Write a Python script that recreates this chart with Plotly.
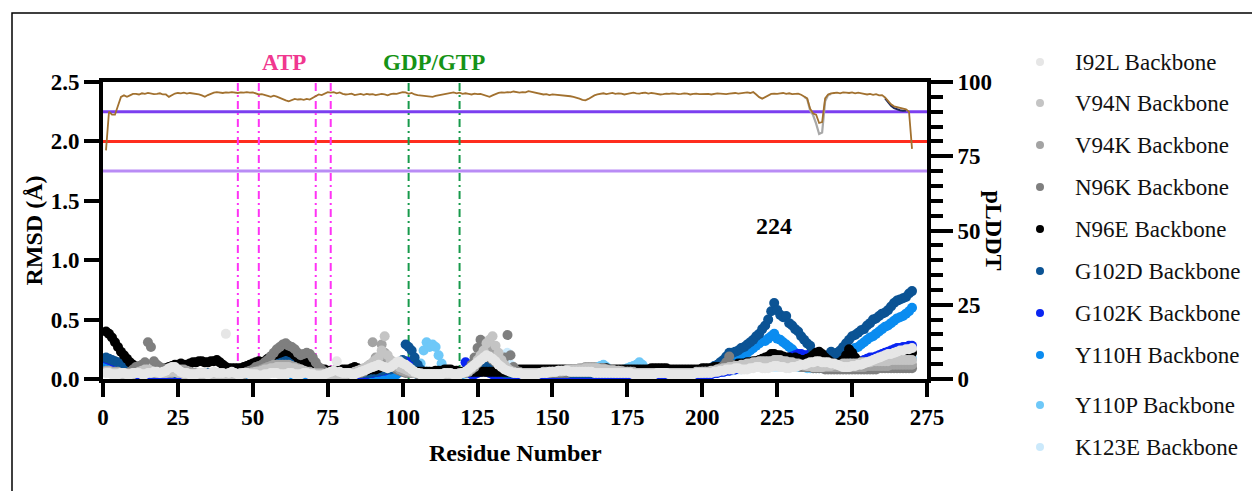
import plotly.graph_objects as go

# ---------------- data ----------------
residues = list(range(1, 271))

rmsd_I92L = [
.05,.05,.04,.04,.04,.05,.05,.04,.04,.05,
.05,.05,.04,.04,.05,.05,.06,.06,.05,.06,
.07,.09,.10,.10,.08,.06,.05,.05,.04,.04,
.04,.05,.05,.05,.04,.05,.06,.05,.05,.05,
.38,.05,.06,.05,.04,.04,.05,.05,.04,.04,
.04,.03,.03,.04,.04,.05,.05,.05,.04,.04,
.04,.05,.05,.04,.04,.04,.05,.05,.04,.04,
.03,.03,.03,.04,.05,.06,.07,.15,.06,.05,
.05,.05,.04,.04,.05,.06,.07,.08,.09,.10,
.11,.12,.11,.10,.09,.10,.12,.14,.15,.13,
.12,.10,.08,.06,.05,.04,.04,.04,.04,.04,
.04,.04,.04,.05,.05,.05,.04,.04,.04,.05,
.06,.08,.10,.12,.14,.16,.18,.20,.19,.17,
.15,.12,.10,.08,.07,.06,.05,.05,.05,.04,
.04,.04,.04,.04,.04,.05,.05,.05,.06,.06,
.06,.07,.07,.07,.07,.06,.06,.06,.06,.06,
.06,.06,.06,.05,.05,.05,.05,.05,.05,.05,
.05,.05,.05,.05,.05,.05,.04,.04,.04,.04,
.04,.04,.04,.04,.05,.05,.05,.05,.04,.04,
.04,.04,.04,.04,.04,.04,.04,.05,.05,.05,
.05,.05,.05,.06,.06,.07,.07,.08,.08,.08,
.09,.09,.08,.08,.08,.09,.09,.10,.10,.09,
.09,.09,.10,.11,.11,.10,.10,.09,.09,.10,
.10,.11,.12,.12,.13,.14,.14,.15,.15,.14,
.14,.14,.13,.13,.12,.11,.10,.10,.10,.11,
.11,.12,.12,.13,.14,.15,.16,.17,.18,.19,
.20,.21,.21,.22,.23,.24,.24,.25,.25,.26]

rmsd_V94N = [
.06,.06,.05,.05,.05,.04,.04,.04,.04,.04,
.05,.06,.07,.08,.08,.07,.06,.05,.05,.05,
.05,.06,.06,.06,.05,.05,.04,.04,.04,.04,
.04,.04,.04,.04,.04,.04,.04,.04,.04,.04,
.04,.04,.04,.04,.04,.05,.05,.05,.05,.05,
.06,.06,.07,.08,.08,.09,.09,.10,.10,.10,
.10,.10,.09,.09,.08,.08,.07,.06,.05,.05,
.04,.04,.04,.04,.04,.04,.04,.04,.04,.04,
.04,.05,.05,.06,.07,.08,.09,.10,.12,.14,
.16,.18,.24,.36,.20,.16,.14,.12,.10,.09,
.08,.07,.06,.05,.05,.04,.04,.04,.04,.04,
.04,.04,.04,.04,.04,.04,.04,.04,.05,.05,
.06,.07,.09,.12,.16,.20,.24,.30,.33,.36,
.28,.22,.16,.12,.09,.07,.06,.05,.05,.05,
.05,.05,.05,.05,.05,.05,.06,.06,.06,.06,
.06,.07,.07,.07,.08,.08,.08,.08,.08,.08,
.09,.09,.09,.09,.09,.08,.08,.08,.07,.07,
.07,.07,.06,.06,.06,.06,.05,.05,.05,.05,
.05,.05,.05,.05,.05,.05,.05,.05,.05,.05,
.05,.05,.05,.05,.05,.05,.05,.06,.06,.06,
.06,.06,.07,.07,.08,.08,.09,.09,.10,.10,
.11,.11,.12,.12,.13,.13,.14,.14,.15,.15,
.15,.15,.15,.16,.16,.16,.15,.15,.14,.14,
.13,.13,.12,.12,.11,.11,.10,.10,.10,.10,
.11,.11,.11,.12,.12,.12,.13,.13,.13,.13,
.13,.13,.14,.14,.14,.14,.15,.15,.15,.15,
.15,.15,.16,.16,.16,.16,.16,.16,.16,.16]

rmsd_V94K = [
.07,.07,.06,.06,.06,.05,.05,.05,.05,.05,
.05,.05,.05,.06,.06,.06,.05,.05,.05,.05,
.05,.05,.05,.06,.07,.08,.08,.07,.06,.05,
.05,.05,.04,.04,.04,.04,.04,.04,.04,.04,
.04,.04,.04,.04,.04,.04,.04,.05,.05,.06,
.06,.07,.08,.09,.10,.11,.12,.12,.12,.12,
.12,.12,.11,.10,.09,.08,.07,.06,.06,.05,
.05,.05,.05,.04,.04,.04,.04,.04,.04,.04,
.04,.04,.05,.05,.06,.07,.08,.10,.12,.31,
.18,.16,.29,.22,.18,.14,.12,.10,.08,.07,
.06,.06,.05,.05,.05,.05,.04,.04,.04,.04,
.04,.04,.04,.04,.04,.04,.04,.04,.04,.05,
.05,.06,.08,.10,.13,.16,.20,.24,.28,.22,
.18,.14,.12,.10,.08,.07,.06,.05,.05,.05,
.05,.05,.05,.05,.05,.05,.05,.05,.05,.06,
.06,.06,.06,.07,.07,.07,.08,.08,.09,.09,
.10,.10,.10,.10,.09,.09,.09,.08,.08,.08,
.07,.07,.07,.06,.06,.06,.06,.05,.05,.05,
.05,.05,.05,.05,.05,.05,.05,.05,.05,.05,
.05,.05,.05,.05,.05,.05,.05,.05,.05,.06,
.06,.06,.06,.07,.07,.08,.08,.09,.09,.10,
.10,.11,.11,.12,.12,.12,.13,.13,.13,.13,
.14,.14,.14,.14,.14,.14,.14,.13,.13,.13,
.12,.12,.12,.11,.11,.11,.10,.10,.10,.10,
.10,.10,.10,.10,.10,.10,.10,.10,.10,.10,
.10,.10,.10,.10,.11,.11,.11,.11,.11,.11,
.11,.11,.12,.12,.12,.12,.12,.12,.12,.12]

rmsd_N96K = [
.06,.06,.06,.05,.05,.05,.05,.05,.06,.08,
.10,.11,.12,.14,.31,.27,.15,.12,.10,.09,
.08,.07,.06,.06,.05,.05,.05,.05,.05,.05,
.04,.04,.04,.04,.04,.04,.04,.04,.04,.04,
.04,.04,.04,.04,.04,.05,.05,.06,.07,.08,
.10,.11,.12,.14,.16,.19,.22,.25,.27,.29,
.30,.28,.27,.25,.22,.20,.21,.22,.21,.18,
.14,.10,.08,.06,.05,.05,.04,.04,.04,.04,
.04,.04,.04,.04,.05,.05,.06,.08,.10,.12,
.14,.16,.18,.16,.14,.12,.10,.08,.07,.06,
.05,.05,.05,.05,.04,.04,.04,.04,.04,.04,
.04,.04,.04,.04,.04,.04,.04,.04,.04,.05,
.06,.08,.12,.18,.26,.33,.28,.22,.18,.16,
.14,.12,.14,.18,.37,.20,.10,.07,.06,.05,
.05,.05,.05,.05,.05,.05,.05,.05,.05,.05,
.05,.05,.05,.05,.05,.06,.06,.06,.06,.06,
.06,.06,.06,.06,.06,.06,.06,.06,.06,.06,
.05,.05,.05,.05,.05,.05,.05,.05,.05,.05,
.05,.05,.05,.05,.05,.05,.05,.05,.05,.05,
.05,.05,.05,.05,.05,.05,.05,.05,.05,.05,
.06,.06,.06,.07,.08,.09,.11,.14,.19,.12,
.10,.10,.10,.10,.10,.11,.11,.11,.12,.12,
.12,.12,.12,.12,.12,.12,.12,.12,.12,.11,
.11,.11,.10,.10,.10,.10,.09,.09,.09,.09,
.08,.08,.08,.08,.08,.08,.08,.08,.08,.08,
.08,.08,.08,.08,.08,.08,.08,.08,.09,.09,
.09,.09,.09,.09,.09,.09,.09,.09,.09,.09]

rmsd_N96E = [
.40,.38,.35,.31,.27,.23,.20,.17,.14,.12,
.10,.09,.08,.08,.07,.07,.07,.07,.08,.08,
.09,.10,.11,.12,.12,.13,.12,.12,.13,.14,
.14,.15,.15,.14,.14,.15,.15,.16,.14,.12,
.10,.09,.09,.09,.09,.09,.10,.11,.12,.13,
.14,.15,.14,.15,.17,.19,.20,.21,.22,.23,
.24,.23,.22,.20,.18,.16,.15,.14,.12,.11,
.10,.09,.08,.08,.07,.07,.07,.07,.07,.08,
.08,.08,.09,.10,.09,.08,.07,.07,.08,.08,
.08,.09,.10,.12,.13,.14,.13,.12,.10,.09,
.08,.07,.07,.06,.06,.06,.06,.06,.06,.06,
.07,.07,.07,.08,.08,.08,.07,.07,.06,.06,
.06,.06,.06,.06,.06,.06,.06,.06,.06,.06,
.06,.06,.06,.06,.06,.07,.07,.07,.08,.08,
.08,.08,.08,.08,.08,.08,.08,.08,.08,.08,
.08,.08,.08,.08,.08,.08,.08,.08,.08,.08,
.09,.09,.09,.09,.09,.09,.09,.09,.08,.08,
.08,.08,.08,.08,.08,.08,.08,.08,.08,.08,
.08,.08,.09,.09,.09,.09,.09,.09,.08,.08,
.08,.08,.08,.08,.08,.08,.08,.08,.08,.09,
.09,.09,.09,.10,.10,.10,.10,.11,.11,.12,
.12,.13,.13,.13,.14,.14,.15,.15,.16,.17,
.18,.19,.21,.21,.20,.20,.19,.18,.18,.17,
.18,.17,.16,.16,.17,.18,.20,.22,.23,.21,
.18,.16,.14,.13,.13,.14,.16,.20,.25,.22,
.18,.15,.14,.13,.12,.12,.13,.13,.14,.14,
.15,.15,.16,.16,.17,.18,.19,.20,.21,.22]

rmsd_G102D = [
.18,.17,.16,.15,.14,.12,.11,.10,.09,.08,
.07,.07,.06,.06,.06,.05,.05,.05,.05,.05,
.05,.05,.05,.05,.05,.05,.05,.05,.05,.05,
.05,.05,.05,.05,.05,.05,.05,.05,.05,.05,
.05,.05,.05,.05,.05,.05,.06,.06,.07,.08,
.09,.10,.11,.12,.13,.14,.15,.16,.17,.17,
.17,.17,.16,.15,.14,.13,.12,.11,.09,.08,
.07,.06,.06,.05,.05,.05,.05,.05,.05,.05,
.05,.05,.05,.05,.05,.05,.05,.05,.05,.06,
.06,.07,.07,.08,.08,.08,.09,.10,.12,.16,
.29,.27,.24,.18,.12,.08,.06,.05,.05,.05,
.05,.05,.05,.05,.05,.05,.05,.05,.05,.05,
.05,.06,.08,.10,.12,.13,.12,.10,.08,.07,
.06,.06,.06,.05,.05,.05,.05,.05,.05,.05,
.05,.05,.05,.05,.05,.05,.05,.05,.05,.05,
.05,.05,.05,.05,.05,.05,.05,.05,.05,.05,
.05,.05,.05,.05,.05,.05,.05,.05,.05,.05,
.05,.05,.05,.05,.05,.05,.05,.05,.05,.05,
.05,.05,.05,.05,.05,.05,.05,.05,.05,.05,
.05,.05,.05,.05,.05,.05,.05,.05,.06,.06,
.07,.08,.09,.11,.12,.14,.16,.19,.22,.22,
.23,.24,.26,.27,.29,.31,.33,.36,.38,.42,
.45,.50,.57,.64,.58,.54,.52,.53,.47,.45,
.42,.40,.36,.33,.30,.28,.22,.20,.18,.17,
.17,.20,.23,.21,.22,.24,.27,.30,.33,.36,
.37,.39,.41,.42,.45,.47,.50,.51,.53,.55,
.56,.58,.61,.64,.66,.67,.68,.69,.72,.74]

rmsd_G102K = [
.17,.16,.15,.13,.11,.09,.07,.05,.04,.03,
.03,.03,.03,.02,.02,.02,.02,.02,.02,.02,
.02,.02,.02,.02,.03,.03,.03,.02,.02,.02,
.02,.02,.02,.02,.02,.02,.03,.03,.03,.03,
.03,.03,.03,.03,.04,.04,.05,.06,.07,.08,
.09,.10,.11,.12,.13,.13,.14,.14,.13,.12,
.12,.11,.10,.09,.08,.07,.06,.05,.04,.04,
.03,.03,.03,.03,.03,.03,.03,.03,.03,.03,
.03,.03,.03,.03,.03,.03,.04,.04,.05,.05,
.06,.06,.07,.07,.08,.09,.10,.11,.12,.14,
.15,.14,.12,.09,.06,.04,.03,.03,.03,.03,
.03,.03,.03,.03,.03,.03,.03,.03,.04,.06,
.14,.06,.04,.04,.05,.06,.07,.06,.05,.04,
.04,.03,.03,.03,.03,.03,.03,.03,.03,.03,
.03,.03,.03,.03,.03,.03,.03,.03,.03,.03,
.03,.03,.03,.03,.03,.03,.03,.03,.03,.03,
.03,.03,.03,.03,.03,.03,.03,.03,.03,.03,
.03,.03,.02,.02,.02,.02,.02,.02,.02,.02,
.02,.02,.02,.02,.02,.02,.02,.02,.02,.02,
.02,.02,.02,.02,.03,.03,.03,.03,.03,.03,
.03,.04,.04,.05,.05,.06,.06,.07,.07,.08,
.08,.09,.09,.10,.11,.12,.13,.14,.15,.16,
.17,.18,.18,.18,.17,.16,.16,.17,.18,.19,
.20,.21,.21,.20,.20,.21,.22,.22,.21,.20,
.18,.16,.14,.13,.12,.12,.12,.12,.12,.13,
.13,.14,.15,.16,.17,.18,.18,.19,.20,.21,
.22,.23,.24,.25,.26,.26,.27,.27,.28,.28]

rmsd_Y110H = [
.14,.13,.12,.10,.08,.06,.05,.04,.03,.02,
.02,.02,.01,.01,.01,.01,.01,.01,.01,.01,
.01,.01,.01,.02,.01,.01,.01,.01,.01,.01,
.01,.01,.02,.01,.01,.01,.01,.01,.01,.01,
.01,.01,.01,.01,.01,.02,.01,.01,.01,.01,
.02,.03,.04,.05,.06,.07,.08,.08,.08,.07,
.06,.05,.04,.03,.02,.02,.01,.01,.01,.01,
.01,.01,.01,.01,.01,.01,.01,.01,.01,.01,
.01,.01,.01,.01,.01,.01,.01,.01,.01,.01,
.01,.01,.01,.01,.01,.02,.03,.04,.06,.08,
.09,.10,.08,.06,.04,.03,.02,.02,.02,.02,
.02,.02,.02,.01,.01,.01,.01,.02,.03,.05,
.07,.09,.12,.15,.17,.18,.16,.12,.08,.05,
.03,.02,.02,.01,.01,.01,.01,.01,.01,.01,
.01,.01,.01,.01,.01,.01,.01,.01,.01,.01,
.01,.01,.02,.01,.01,.01,.01,.01,.01,.01,
.01,.01,.01,.01,.01,.01,.01,.01,.01,.01,
.01,.01,.01,.01,.01,.01,.01,.01,.01,.01,
.01,.01,.01,.01,.01,.01,.01,.01,.01,.01,
.01,.01,.01,.01,.01,.02,.02,.02,.03,.04,
.05,.06,.07,.08,.09,.10,.12,.13,.15,.16,
.17,.18,.19,.21,.22,.24,.26,.28,.30,.32,
.32,.34,.36,.38,.34,.33,.31,.29,.27,.25,
.22,.20,.19,.18,.17,.16,.16,.15,.15,.15,
.15,.15,.15,.15,.16,.16,.17,.19,.22,.24,
.26,.27,.29,.31,.33,.35,.36,.38,.40,.42,
.44,.45,.47,.49,.51,.52,.53,.55,.57,.60]

rmsd_Y110P = [
.10,.09,.08,.07,.06,.05,.04,.04,.04,.04,
.04,.04,.03,.03,.03,.03,.03,.03,.03,.03,
.03,.03,.03,.04,.04,.04,.03,.03,.03,.03,
.03,.03,.03,.03,.03,.03,.03,.03,.03,.03,
.03,.03,.03,.03,.03,.04,.04,.04,.04,.04,
.04,.04,.05,.06,.07,.08,.10,.12,.15,.18,
.22,.26,.25,.20,.15,.10,.07,.05,.04,.04,
.03,.03,.03,.03,.03,.03,.03,.03,.03,.03,
.03,.03,.03,.03,.03,.03,.04,.04,.04,.04,
.04,.04,.04,.04,.04,.05,.06,.07,.08,.09,
.08,.07,.06,.05,.07,.13,.24,.31,.27,.29,
.27,.20,.13,.08,.06,.05,.04,.04,.04,.04,
.05,.06,.08,.10,.12,.14,.16,.14,.12,.14,
.18,.15,.10,.06,.05,.04,.04,.04,.04,.04,
.04,.04,.04,.04,.04,.05,.05,.05,.05,.05,
.05,.05,.05,.05,.05,.05,.05,.05,.05,.05,
.06,.07,.08,.09,.10,.11,.12,.10,.08,.07,
.06,.06,.07,.08,.09,.10,.11,.12,.14,.12,
.09,.07,.06,.05,.05,.04,.04,.04,.04,.04,
.04,.04,.04,.04,.04,.04,.04,.04,.04,.04,
.04,.04,.05,.05,.05,.06,.06,.07,.07,.08,
.08,.09,.09,.10,.10,.11,.11,.12,.12,.13,
.13,.13,.14,.14,.14,.13,.13,.12,.12,.11,
.11,.10,.10,.10,.09,.09,.09,.09,.09,.09,
.09,.09,.09,.09,.09,.09,.10,.10,.10,.10,
.10,.11,.11,.11,.12,.12,.12,.13,.13,.13,
.14,.14,.14,.15,.15,.15,.16,.16,.16,.17]

rmsd_K123E = [
.08,.07,.06,.06,.05,.05,.04,.04,.04,.04,
.04,.04,.04,.04,.04,.04,.04,.04,.04,.04,
.04,.04,.04,.04,.04,.04,.04,.04,.04,.04,
.04,.04,.04,.04,.04,.04,.04,.04,.04,.04,
.04,.04,.04,.04,.04,.04,.04,.04,.04,.04,
.04,.05,.06,.07,.08,.10,.12,.14,.16,.18,
.20,.22,.21,.18,.14,.10,.07,.05,.04,.04,
.04,.04,.04,.04,.04,.04,.04,.04,.04,.04,
.04,.04,.04,.04,.04,.04,.04,.04,.04,.04,
.04,.04,.04,.04,.04,.04,.05,.06,.07,.08,
.07,.06,.05,.05,.05,.05,.06,.07,.06,.05,
.05,.05,.04,.04,.04,.04,.04,.04,.04,.04,
.04,.05,.06,.07,.08,.09,.10,.11,.12,.12,
.12,.13,.10,.20,.22,.12,.06,.05,.04,.04,
.04,.04,.04,.04,.04,.04,.04,.04,.04,.04,
.04,.04,.04,.04,.04,.04,.04,.04,.04,.04,
.04,.04,.04,.04,.04,.04,.04,.04,.04,.04,
.04,.04,.04,.04,.04,.04,.04,.04,.04,.04,
.04,.04,.04,.04,.04,.04,.04,.04,.04,.04,
.04,.04,.04,.04,.04,.04,.04,.04,.04,.04,
.04,.05,.05,.05,.06,.06,.06,.07,.07,.07,
.08,.08,.08,.09,.09,.09,.10,.10,.10,.10,
.10,.10,.10,.10,.10,.10,.10,.10,.10,.10,
.10,.10,.10,.10,.10,.10,.10,.10,.10,.10,
.10,.10,.10,.10,.10,.10,.10,.10,.10,.10,
.10,.10,.10,.11,.11,.11,.12,.12,.12,.13,
.13,.13,.14,.14,.15,.15,.16,.16,.17,.17]

plddt = [
77.0,90.0,89.0,89.0,92.0,95.0,95.5,95.0,95.5,96.0,
96.0,95.8,96.2,96.0,96.3,96.1,95.9,96.0,96.2,95.8,
95.8,95.0,95.6,96.1,96.3,96.2,96.4,96.1,96.3,96.2,
96.0,95.8,95.5,95.0,95.6,96.1,96.4,96.6,96.5,96.3,
96.5,96.4,96.6,96.5,96.3,96.5,96.4,96.6,96.4,96.5,
96.2,95.8,95.9,95.5,95.3,95.0,95.4,95.1,94.6,94.2,
93.8,93.5,94.0,94.3,94.1,94.2,94.0,94.3,94.1,94.6,
95.2,95.8,95.6,96.2,96.6,96.4,96.6,96.2,96.5,96.0,
95.8,95.9,96.1,95.6,95.9,96.0,95.7,96.0,95.8,95.9,
95.6,95.9,96.0,95.8,95.5,95.9,96.1,96.0,96.3,96.6,
96.5,96.0,96.3,95.8,95.6,95.5,95.3,95.4,95.1,95.0,
95.3,95.5,95.8,96.0,96.1,96.3,96.5,96.2,96.4,96.0,
96.2,96.0,95.8,96.1,95.9,96.0,95.6,95.4,95.0,95.5,
96.0,96.3,96.5,96.4,96.6,96.5,96.8,96.6,96.4,96.6,
96.5,96.9,96.7,96.4,96.2,96.0,95.8,95.9,95.6,95.8,
95.7,95.8,95.5,95.6,95.5,95.2,95.0,94.8,94.4,94.0,
93.8,94.3,95.0,95.5,95.8,96.0,96.2,95.9,96.1,96.3,
96.0,96.2,96.1,95.8,96.0,96.3,96.4,96.2,96.1,96.3,
96.4,96.1,96.3,96.2,96.0,95.8,95.9,96.1,96.0,96.2,
96.1,95.9,96.0,96.2,96.1,95.8,96.0,96.1,95.9,96.0,
96.1,96.0,95.8,96.0,96.2,96.1,96.0,95.9,96.1,96.2,
96.3,96.1,96.2,96.4,96.5,96.3,96.6,95.8,94.9,94.4,
95.0,95.6,96.0,96.1,96.0,96.2,96.3,96.0,96.2,95.9,
96.0,96.1,95.7,95.2,94.5,91.0,89.4,89.0,86.2,86.5,
94.5,95.8,96.2,96.3,96.4,96.2,96.5,96.4,96.3,96.5,
96.2,96.4,96.1,96.0,95.8,96.0,95.7,95.9,95.5,95.6,
94.8,93.5,92.5,91.8,91.5,91.2,91.0,90.8,90.0,77.5]

# second (grey) pLDDT model, visible only around the 240 dip
plddt_grey_res = [234, 235, 236, 237, 238, 239, 240, 241, 242, 243]
plddt_grey = [95.0, 94.3, 90.5, 88.8, 86.0, 82.5, 83.0, 93.5, 95.6, 96.0]
# third (navy) pLDDT model, visible near the C-terminus
plddt_navy_res = [261, 262, 263, 264, 265, 266, 267, 268]
plddt_navy = [94.5, 93.2, 92.0, 91.2, 90.8, 90.5, 90.3, 90.4]

series_names = ["I92L Backbone", "V94N Backbone", "V94K Backbone", "N96K Backbone",
                "N96E Backbone", "G102D Backbone", "G102K Backbone", "Y110H Backbone",
                "Y110P Backbone", "K123E Backbone"]
series_values = [rmsd_I92L, rmsd_V94N, rmsd_V94K, rmsd_N96K, rmsd_N96E,
                 rmsd_G102D, rmsd_G102K, rmsd_Y110H, rmsd_Y110P, rmsd_K123E]
series_colors = ["#E6E6E6", "#C4C4C4", "#A3A3A3", "#7F7F7F", "#000000",
                 "#0B5394", "#0A25F2", "#0A8CF0", "#6EC8F8", "#CBE9FB"]

for v in series_values:
    assert len(v) == 270, len(v)
assert len(plddt) == 270

atp_sites = [45, 52, 71, 76]
gtp_sites = [102, 119]
threshold_rmsd = [2.25, 2.0, 1.75]
threshold_colors = ["#7B3FF0", "#FF2D1E", "#B98CF5"]

# ---------------- layout helpers ----------------
PX_L, PX_R, PX_T, PX_B = 103, 927, 82, 379
W, H = 1252, 491


def px_x(px):
    return (px - PX_L) / (PX_R - PX_L)


def px_y(py):
    return (PX_B - py) / (PX_B - PX_T)


SERIF = "Liberation Serif"
tick_font = dict(family=SERIF, size=23, color="black", weight="bold")

fig = go.Figure()

# RMSD scatter (drawn in reverse so the first series is on top)
for name, vals, col in reversed(list(zip(series_names, series_values, series_colors))):
    fig.add_trace(go.Scatter(x=residues, y=vals, mode="markers", name=name,
                             marker=dict(size=10, color=col, line=dict(width=0)),
                             showlegend=False))

# pLDDT lines on the right axis
fig.add_trace(go.Scatter(x=plddt_grey_res, y=plddt_grey, yaxis="y2", mode="lines",
                         line=dict(color="#A8A8A8", width=2.2), showlegend=False))
fig.add_trace(go.Scatter(x=plddt_navy_res, y=plddt_navy, yaxis="y2", mode="lines",
                         line=dict(color="#1F2A5C", width=2), showlegend=False))
fig.add_trace(go.Scatter(x=residues, y=plddt, yaxis="y2", mode="lines",
                         line=dict(color="#A2712F", width=1.8), showlegend=False))

shapes = []
for yv, col in zip(threshold_rmsd, threshold_colors):
    shapes.append(dict(type="line", xref="x", yref="y", x0=0, x1=275, y0=yv, y1=yv,
                       line=dict(color=col, width=3), layer="below"))
for xv in atp_sites:
    shapes.append(dict(type="line", xref="x", yref="y", x0=xv, x1=xv, y0=0, y1=2.5,
                       line=dict(color="#FF33F5", width=2, dash="8px,4px,2px,4px"), layer="below"))
for xv in gtp_sites:
    shapes.append(dict(type="line", xref="x", yref="y", x0=xv, x1=xv, y0=0, y1=2.5,
                       line=dict(color="#179A4B", width=2, dash="8px,4px,2px,4px"), layer="below"))

# outer frame
shapes.append(dict(type="rect", xref="paper", yref="paper",
                   x0=px_x(12), x1=px_x(1300), y0=px_y(13), y1=px_y(540),
                   line=dict(color="black", width=1.5), fillcolor="rgba(0,0,0,0)", layer="above"))

annotations = [
    dict(text="ATP", x=(atp_sites[0] + atp_sites[-1]) / 2, xref="x", y=px_y(62), yref="paper",
         showarrow=False, xanchor="center", yanchor="middle",
         font=dict(family=SERIF, size=23, color="#F0388F", weight="bold")),
    dict(text="GDP/GTP", x=(gtp_sites[0] + gtp_sites[-1]) / 2, xref="x", y=px_y(62), yref="paper",
         showarrow=False, xanchor="center", yanchor="middle",
         font=dict(family=SERIF, size=23, color="#169316", weight="bold")),
    dict(text="224", x=224, xref="x", y=1.287, yref="y", showarrow=False,
         xanchor="center", yanchor="middle",
         font=dict(family=SERIF, size=24, color="black", weight="bold")),
    dict(text="RMSD (Å)", x=px_x(33), xref="paper", y=0.5, yref="paper", textangle=-90,
         showarrow=False, xanchor="center", yanchor="middle",
         font=dict(family=SERIF, size=24, color="black", weight="bold")),
    dict(text="pLDDT", x=px_x(994), xref="paper", y=0.5, yref="paper", textangle=90,
         showarrow=False, xanchor="center", yanchor="middle",
         font=dict(family=SERIF, size=24, color="black", weight="bold")),
    dict(text="Residue Number", x=0.5, xref="paper", y=px_y(453), yref="paper",
         showarrow=False, xanchor="center", yanchor="middle",
         font=dict(family=SERIF, size=24, color="black", weight="bold")),
]

# manual legend
legend_y_px = [62, 103, 145, 187, 229, 271, 313, 355, 405, 447]
for name, col, ly in zip(series_names, series_colors, legend_y_px):
    shapes.append(dict(type="circle", xref="paper", yref="paper",
                       xsizemode="pixel", ysizemode="pixel",
                       xanchor=px_x(1040), yanchor=px_y(ly),
                       x0=-4, x1=4, y0=-4, y1=4,
                       fillcolor=col, line=dict(width=0), layer="above"))
    annotations.append(dict(text=name, x=px_x(1073), xref="paper", y=px_y(ly), yref="paper",
                            showarrow=False, xanchor="left", yanchor="middle",
                            font=dict(family=SERIF, size=23, color="#111111")))

fig.update_layout(
    width=W, height=H,
    margin=dict(l=PX_L, r=W - PX_R, t=PX_T, b=H - PX_B, pad=0),
    paper_bgcolor="white", plot_bgcolor="white",
    showlegend=False,
    xaxis=dict(range=[0, 275], tickvals=list(range(0, 276, 25)), ticks="outside",
               ticklen=14, tickwidth=3.5, tickcolor="black", showline=True, linewidth=4,
               linecolor="black", mirror=True, showgrid=False, zeroline=False,
               tickfont=tick_font),
    yaxis=dict(range=[0, 2.5], tickvals=[0, 0.5, 1.0, 1.5, 2.0, 2.5],
               ticktext=["0.0", "0.5", "1.0", "1.5", "2.0", "2.5"], ticks="outside",
               ticklen=15, tickwidth=4, tickcolor="black", showline=True, linewidth=4,
               linecolor="black", showgrid=False, zeroline=False, tickfont=tick_font),
    yaxis2=dict(overlaying="y", side="right", range=[0, 100], tickvals=[0, 25, 50, 75, 100],
                ticks="outside", ticklen=22, tickwidth=4, tickcolor="black", showline=True,
                linewidth=4, linecolor="black", showgrid=False, zeroline=False,
                minor=dict(dtick=5, ticks="outside", ticklen=12, tickwidth=3.5,
                           tickcolor="black", showgrid=False),
                tickfont=tick_font),
    shapes=shapes,
    annotations=annotations,
)

fig.write_html("out.html")
